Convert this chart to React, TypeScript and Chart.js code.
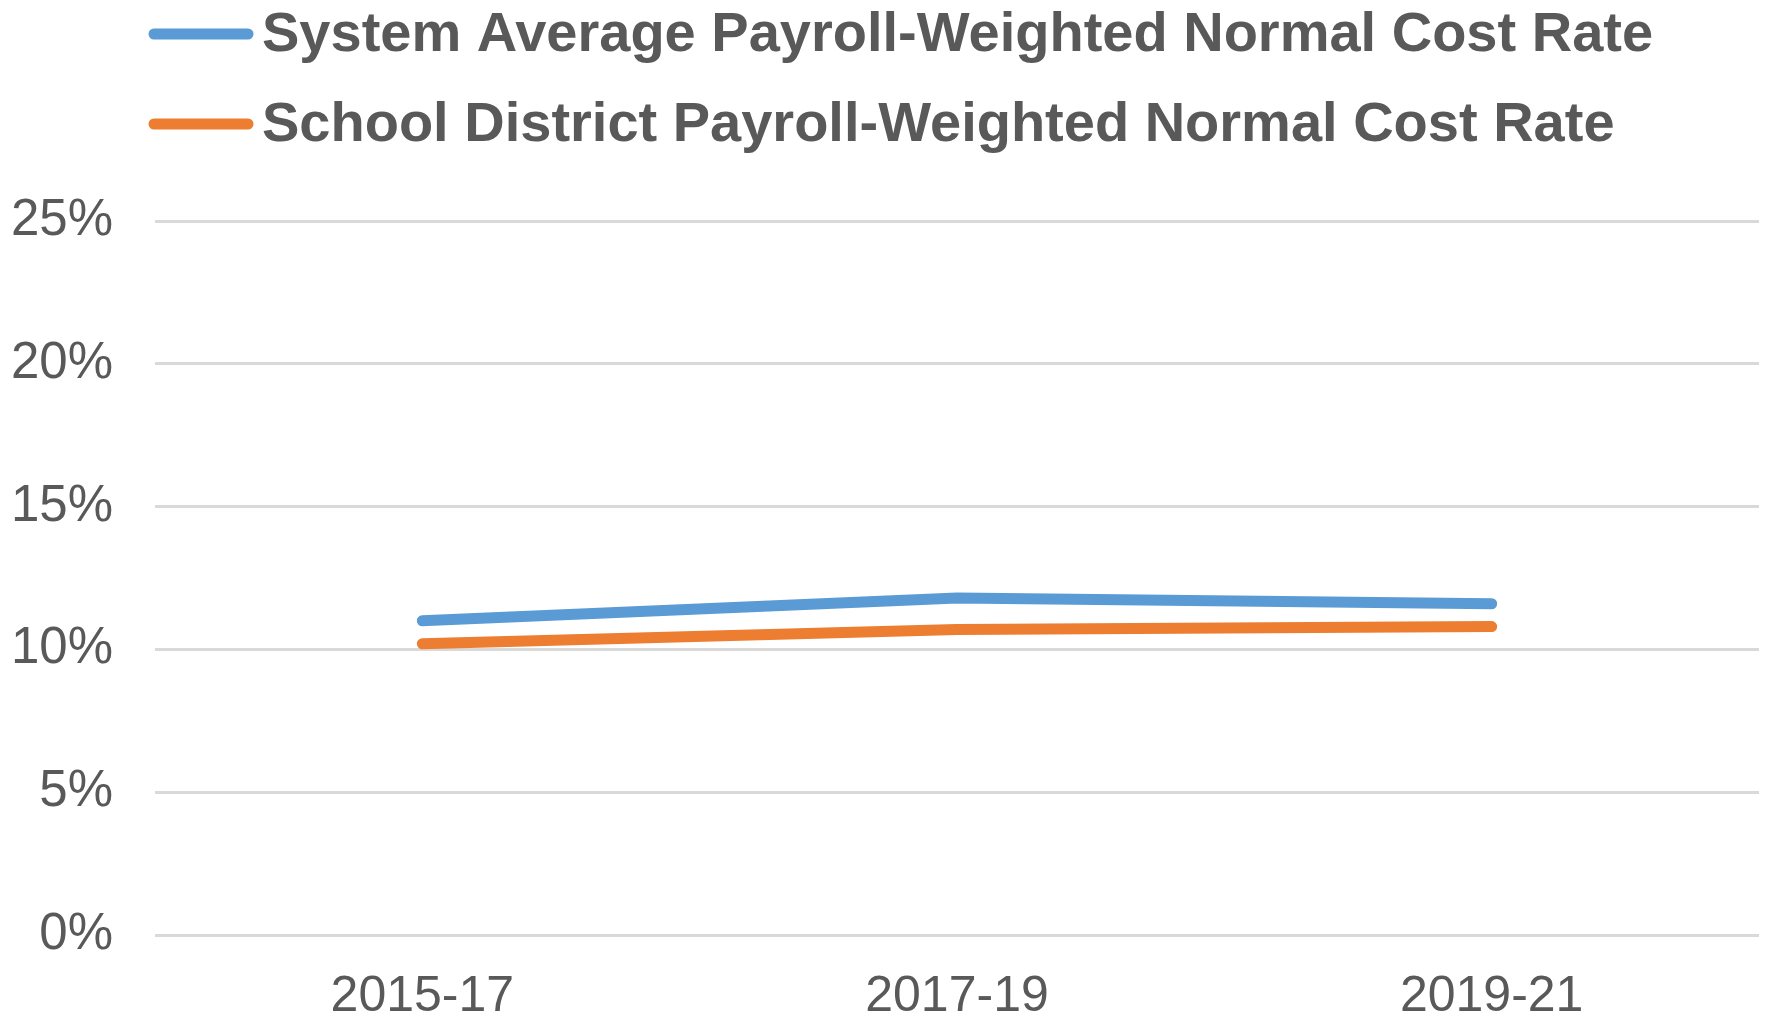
import React, { useEffect, useRef } from "react";
import { Chart, registerables } from "chart.js";

Chart.register(...registerables);

const categories = ["2015-17", "2017-19", "2019-21"];
const seriesNames = [
  "System Average Payroll-Weighted Normal Cost Rate",
  "School District Payroll-Weighted Normal Cost Rate",
];
const systemAverage = [11.0, 11.8, 11.6];
const schoolDistrict = [10.2, 10.7, 10.8];
const yTicks = [0, 5, 10, 15, 20, 25];

const COLORS = ["#5B9BD5", "#ED7D31"];
const TEXT = "#595959";
const FONT = "'Liberation Sans', Arial, sans-serif";

const legendPlugin = {
  id: "customLegend",
  afterDraw(chart: any) {
    const ctx = chart.ctx;
    ctx.save();
    chart.data.datasets.forEach((ds: any, i: number) => {
      const cy = 34 + i * 90;
      ctx.strokeStyle = ds.borderColor;
      ctx.lineWidth = 11;
      ctx.lineCap = "round";
      ctx.beginPath();
      ctx.moveTo(154, cy);
      ctx.lineTo(248, cy);
      ctx.stroke();
      ctx.fillStyle = TEXT;
      ctx.font = `bold 56px ${FONT}`;
      ctx.textBaseline = "middle";
      ctx.textAlign = "left";
      ctx.fillText(ds.label, 262, cy + 2);
    });
    ctx.restore();
  },
};

export default function App() {
  const ref = useRef<HTMLCanvasElement>(null);
  useEffect(() => {
    if (!ref.current) return;
    const chart = new Chart(ref.current, {
      type: "line",
      data: {
        labels: categories,
        datasets: [
          {
            label: seriesNames[0],
            data: systemAverage,
            borderColor: COLORS[0],
            backgroundColor: COLORS[0],
            borderWidth: 11,
            pointRadius: 0,
            borderCapStyle: "round",
            borderJoinStyle: "round",
            tension: 0,
          },
          {
            label: seriesNames[1],
            data: schoolDistrict,
            borderColor: COLORS[1],
            backgroundColor: COLORS[1],
            borderWidth: 11,
            pointRadius: 0,
            borderCapStyle: "round",
            borderJoinStyle: "round",
            tension: 0,
          },
        ],
      },
      options: {
        animation: false,
        responsive: true,
        maintainAspectRatio: false,
        layout: { padding: { top: 221, right: 6, left: 0, bottom: 0 } },
        plugins: {
          legend: { display: false },
          tooltip: { enabled: false },
        },
        scales: {
          x: {
            offset: true,
            grid: { display: false, drawTicks: false },
            border: { display: false },
            ticks: {
              color: TEXT,
              font: { family: FONT, size: 50 },
              padding: 32,
              maxRotation: 0,
            },
            afterFit(scale: any) {
              scale.height = 83;
            },
          },
          y: {
            min: 0,
            max: 25,
            afterBuildTicks(scale: any) {
              scale.ticks = yTicks.map((v) => ({ value: v }));
            },
            grid: { color: "#D9D9D9", lineWidth: 3, drawTicks: false },
            border: { display: false },
            ticks: {
              color: TEXT,
              font: { family: FONT, size: 51 },
              padding: 42,
              callback: (v: any) => `${v}%`,
            },
            afterFit(scale: any) {
              scale.width = 155;
            },
          },
        },
      },
      plugins: [legendPlugin],
    });
    return () => chart.destroy();
  }, []);
  return (
    <div style={{ position: "absolute", left: 0, top: 0, width: 1765, height: 1018, background: "#fff" }}>
      <canvas ref={ref} />
    </div>
  );
}
